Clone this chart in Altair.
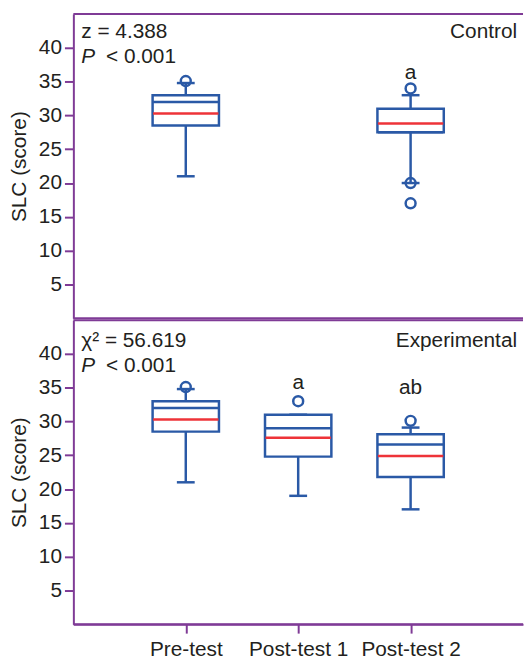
import altair as alt
import pandas as pd

# ---- data ----
categories = ["Pre-test", "Post-test 1", "Post-test 2"]

ctrl_groups = ["Pre-test", "Post-test 2"]
ctrl_q1 = [28.5, 27.5]
ctrl_q3 = [33.0, 31.0]
ctrl_median = [32.0, 27.5]
ctrl_mean = [30.3, 28.8]
ctrl_low = [21.0, 20.0]
ctrl_high = [34.8, 33.0]
ctrl_out_groups = ["Pre-test", "Post-test 2", "Post-test 2", "Post-test 2"]
ctrl_out_values = [35.1, 34.0, 20.0, 17.0]
ctrl_letters_groups = ["Post-test 2"]
ctrl_letters = ["a"]
ctrl_letters_y = [35.4]

exp_groups = ["Pre-test", "Post-test 1", "Post-test 2"]
exp_q1 = [28.5, 24.8, 21.8]
exp_q3 = [33.0, 31.0, 28.1]
exp_median = [32.0, 29.0, 26.6]
exp_mean = [30.3, 27.6, 24.9]
exp_low = [21.0, 19.0, 17.0]
exp_high = [34.8, 31.0, 29.1]
exp_out_groups = ["Pre-test", "Post-test 1", "Post-test 2"]
exp_out_values = [35.1, 33.0, 30.1]
exp_letters_groups = ["Post-test 1", "Post-test 2"]
exp_letters = ["a", "ab"]
exp_letters_y = [34.8, 34.1]

y_ticks = [5, 10, 15, 20, 25, 30, 35, 40]

# ---- style ----
FONT = "Liberation Sans"
FS = 21
TXT = "#231f20"
BLUE = "#2a59a6"
RED = "#ee3338"
PURPLE = "#7f3b96"
W = 454
H = 307
LW = 2.5

xscale = alt.Scale(type="point", domain=categories, padding=1)
yscale = alt.Scale(domain=[0, 45], nice=False, zero=False)


def panel(groups, q1, q3, med, mean, low, high, og, ov, lg, lt, ly,
          stat_line, label, top_y, show_x):
    box = pd.DataFrame({"g": groups, "q1": q1, "q3": q3, "med": med,
                        "mean": mean, "low": low, "high": high})
    outs = pd.DataFrame({"g": og, "v": ov})
    lets = pd.DataFrame({"g": lg, "t": lt, "y": ly})

    if show_x:
        xaxis = alt.Axis(title=None, labelFont=FONT, labelFontSize=FS,
                         labelColor=TXT, domainColor=PURPLE, domainWidth=2,
                         tickColor=PURPLE, tickWidth=2, tickSize=9,
                         labelPadding=6, grid=False, labelAngle=0)
    else:
        xaxis = None
    x = alt.X("g:N", scale=xscale, axis=xaxis)
    yaxis = alt.Axis(title="SLC (score)", values=y_ticks, labelFont=FONT,
                     labelFontSize=FS, labelColor=TXT, titleFont=FONT,
                     titleFontSize=FS, titleFontWeight="normal",
                     titleColor=TXT, titlePadding=9, domainColor=PURPLE,
                     domainWidth=2, tickColor=PURPLE, tickWidth=2,
                     tickSize=9, labelPadding=3, grid=False)
    y_lo = alt.Y("low:Q", scale=yscale, axis=yaxis)

    base = alt.Chart(box)
    whisk_lo = base.mark_rule(color=BLUE, strokeWidth=LW).encode(
        x=x, y=y_lo, y2="q1:Q")
    whisk_hi = base.mark_rule(color=BLUE, strokeWidth=LW).encode(
        x=x, y=alt.Y("q3:Q", scale=yscale), y2="high:Q")
    cap_lo = base.mark_tick(color=BLUE, orient="horizontal", size=18,
                            thickness=LW, opacity=1).encode(
        x=x, y=alt.Y("low:Q", scale=yscale))
    cap_hi = base.mark_tick(color=BLUE, orient="horizontal", size=18,
                            thickness=LW, opacity=1).encode(
        x=x, y=alt.Y("high:Q", scale=yscale))
    boxes = base.mark_bar(size=67, fill="white", stroke=BLUE,
                          strokeWidth=LW, opacity=1).encode(
        x=x, y=alt.Y("q1:Q", scale=yscale), y2="q3:Q")
    meds = base.mark_tick(color=BLUE, orient="horizontal", size=66,
                          thickness=LW, opacity=1).encode(
        x=x, y=alt.Y("med:Q", scale=yscale))
    means = base.mark_tick(color=RED, orient="horizontal", size=66,
                           thickness=LW, opacity=1).encode(
        x=x, y=alt.Y("mean:Q", scale=yscale))
    pts = alt.Chart(outs).mark_point(shape="circle", filled=False,
                                     color=BLUE, strokeWidth=LW,
                                     size=100, opacity=1).encode(
        x=x, y=alt.Y("v:Q", scale=yscale))
    letters = alt.Chart(lets).mark_text(font=FONT, fontSize=FS, color=TXT,
                                        baseline="alphabetic",
                                        align="center").encode(
        x=x, y=alt.Y("y:Q", scale=yscale), text="t:N")

    one = pd.DataFrame({"k": [0]})
    border_top = alt.Chart(one).mark_rule(color=PURPLE, strokeWidth=2).encode(
        x=alt.value(0), x2=alt.value(W), y=alt.value(0))
    border_bot = alt.Chart(one).mark_rule(color=PURPLE, strokeWidth=2).encode(
        x=alt.value(0), x2=alt.value(W), y=alt.value(H))

    t1 = alt.Chart(one).mark_text(text=stat_line, font=FONT, fontSize=FS,
                                  color=TXT, align="left",
                                  baseline="alphabetic").encode(
        x=alt.value(8), y=alt.value(top_y))
    t2a = alt.Chart(one).mark_text(text="P", font=FONT, fontSize=FS,
                                   fontStyle="italic", color=TXT,
                                   align="left", baseline="alphabetic").encode(
        x=alt.value(8), y=alt.value(top_y + 25))
    t2b = alt.Chart(one).mark_text(text="< 0.001", font=FONT, fontSize=FS,
                                   color=TXT, align="left",
                                   baseline="alphabetic").encode(
        x=alt.value(33), y=alt.value(top_y + 25))
    t3 = alt.Chart(one).mark_text(text=label, font=FONT, fontSize=FS,
                                  color=TXT, align="right",
                                  baseline="alphabetic").encode(
        x=alt.value(W - 6), y=alt.value(top_y))

    return alt.layer(whisk_lo, whisk_hi, cap_lo, cap_hi, boxes, meds, means,
                     pts, letters, border_top, border_bot, t1, t2a, t2b,
                     t3).properties(width=W, height=H)


top = panel(ctrl_groups, ctrl_q1, ctrl_q3, ctrl_median, ctrl_mean, ctrl_low,
            ctrl_high, ctrl_out_groups, ctrl_out_values, ctrl_letters_groups,
            ctrl_letters, ctrl_letters_y, "z = 4.388",
            "Control", 24, False)
bottom = panel(exp_groups, exp_q1, exp_q3, exp_median, exp_mean, exp_low,
               exp_high, exp_out_groups, exp_out_values, exp_letters_groups,
               exp_letters, exp_letters_y, "χ² = 56.619",
               "Experimental", 27, True)

chart = alt.vconcat(top, bottom, spacing=0).properties(
    padding={"left": 0, "top": 2, "right": 0, "bottom": 0}
).configure_view(stroke=None)

chart.save("out.html", embed_options={"renderer": "svg", "actions": False})
